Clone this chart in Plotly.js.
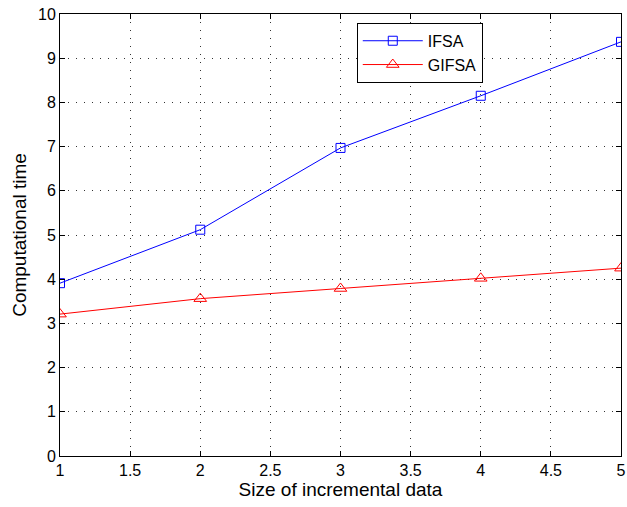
<!DOCTYPE html>
<html>
<head>
<script src="https://cdn.plot.ly/plotly-3.0.1.min.js"></script>
<style>body{margin:0;padding:0;background:#fff}</style>
</head>
<body>
<div id="chart" style="width:627px;height:507px"></div>
<script>
var sizes = [1, 2, 3, 4, 5];
var ifsa = [3.91, 5.12, 6.97, 8.15, 9.37];
var gifsa = [3.21, 3.56, 3.79, 4.02, 4.25];
var xTicks = [1, 1.5, 2, 2.5, 3, 3.5, 4, 4.5, 5];
var yTicks = [0, 1, 2, 3, 4, 5, 6, 7, 8, 9, 10];

var fam = 'Liberation Sans, Arial, sans-serif';
var font = {family: fam, size: 16, color: '#000'};
var axisCommon = {
  showline: true, linecolor: '#000', linewidth: 1, mirror: 'ticks',
  ticks: 'inside', ticklen: 5, tickcolor: '#000', tickwidth: 1,
  showgrid: true, gridcolor: '#333', griddash: '1px,7px', gridwidth: 1,
  zeroline: false, tickfont: font
};
var traces = [
  {x: sizes, y: ifsa, name: 'IFSA', mode: 'lines+markers', legendgroup: 'a',
   line: {color: '#0000ff', width: 1},
   marker: {symbol: 'square-open', size: 9, color: '#0000ff', line: {width: 1}}},
  {x: sizes, y: gifsa, name: 'GIFSA', mode: 'lines+markers', legendgroup: 'b',
   line: {color: '#ff0000', width: 1},
   marker: {symbol: 'triangle-up-open', size: 11, color: '#ff0000', line: {width: 1}}}
];
var layout = {
  width: 627, height: 507,
  margin: {l: 60, r: 6, t: 14, b: 51},
  paper_bgcolor: '#fff', plot_bgcolor: '#fff',
  font: font,
  showlegend: true,
  legend: {x: 0.529, y: 0.98, xanchor: 'left', yanchor: 'top',
    bordercolor: '#000', borderwidth: 1, bgcolor: '#fff',
    font: {family: fam, size: 16, color: '#000'},
    itemwidth: 60, tracegroupgap: 0},
  xaxis: Object.assign({}, axisCommon, {range: [1, 5], tickvals: xTicks,
    ticktext: xTicks.map(String),
    title: {text: 'Size of incremental data', font: {family: fam, size: 19, color: '#000'}, standoff: 3}}),
  yaxis: Object.assign({}, axisCommon, {range: [0, 10], tickvals: yTicks,
    ticktext: yTicks.map(String),
    title: {text: 'Computational time', font: {family: fam, size: 19, color: '#000'}, standoff: 6}})
};
Plotly.newPlot('chart', traces, layout, {displayModeBar: false, staticPlot: true});
</script>
</body>
</html>
